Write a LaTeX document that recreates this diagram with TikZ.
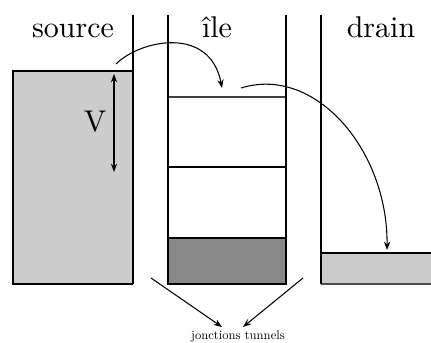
\documentclass[tikz,border=0pt]{standalone}
\usetikzlibrary{arrows.meta}
\begin{document}
\begin{tikzpicture}[x=0.3333pt,y=-0.3333pt,
  wall/.style={line width=0.75pt},
  thin/.style={line width=0.4pt},
  arr/.style={line width=0.35pt,-{Stealth[length=2.8pt,width=2.1pt]}},
  dblarr/.style={line width=0.35pt,{Stealth[length=2.8pt,width=2.1pt]}-{Stealth[length=2.8pt,width=2.1pt]}},
  title/.style={font=\fontsize{10}{12}\selectfont,anchor=base},
  small/.style={font=\fontsize{10}{12}\selectfont,scale=0.42}]
\useasboundingbox (0,0) rectangle (431,343);
\definecolor{lightg}{HTML}{CCCCCC}
\definecolor{darkg}{HTML}{888888}
% source reservoir
\fill[lightg] (13,71) rectangle (133,284);
\draw[thin] (133,71) -- (13,71) -- (13,284) -- (133,284);
% island
\draw[thin,draw=black!75] (168,97) -- (286,97);
\draw[thin] (168,167) -- (286,167);
\filldraw[thin,fill=darkg] (168,238) rectangle (286,284);
% drain
\fill[lightg] (321,253) rectangle (431,284);
\draw[thin] (321,253) -- (431,253);
\draw[thin,draw=black!70] (321,284) -- (431,284);
% walls
\draw[wall] (133,15) -- (133,284);
\draw[wall] (168,15) -- (168,284);
\draw[wall] (286,15) -- (286,284);
\draw[wall] (321,15) -- (321,284);
% titles
\node[title] (tsrc) at (73,38) {source};
\node[title] (tile) at (217,38) {île};
\node[title] (tdrn) at (381,38) {drain};
% V
\coordinate (vtop) at (114,74);
\coordinate (vbot) at (114,172);
\draw[dblarr] (vtop) -- (vbot);
\node[font=\fontsize{10}{12}\selectfont] (vlab) at (95,122) {V};
% tunnelling arrows
\coordinate (a1s) at (116,64);
\coordinate (a1e) at (222,88);
\draw[arr] (a1s) .. controls (140,40) and (210,25) .. (a1e);
\coordinate (a2s) at (241,88);
\coordinate (a2e) at (387,250);
\draw[arr] (a2s) .. controls (315,65) and (388,150) .. (a2e);
% junctions
\node[small] (jt) at (238,336) {jonctions tunnels};
\coordinate (j1) at (151,278);
\coordinate (j2) at (303,278);
\draw[arr] (j1) -- (222,327);
\draw[arr] (j2) -- (243,327);
\end{tikzpicture}
\end{document}
